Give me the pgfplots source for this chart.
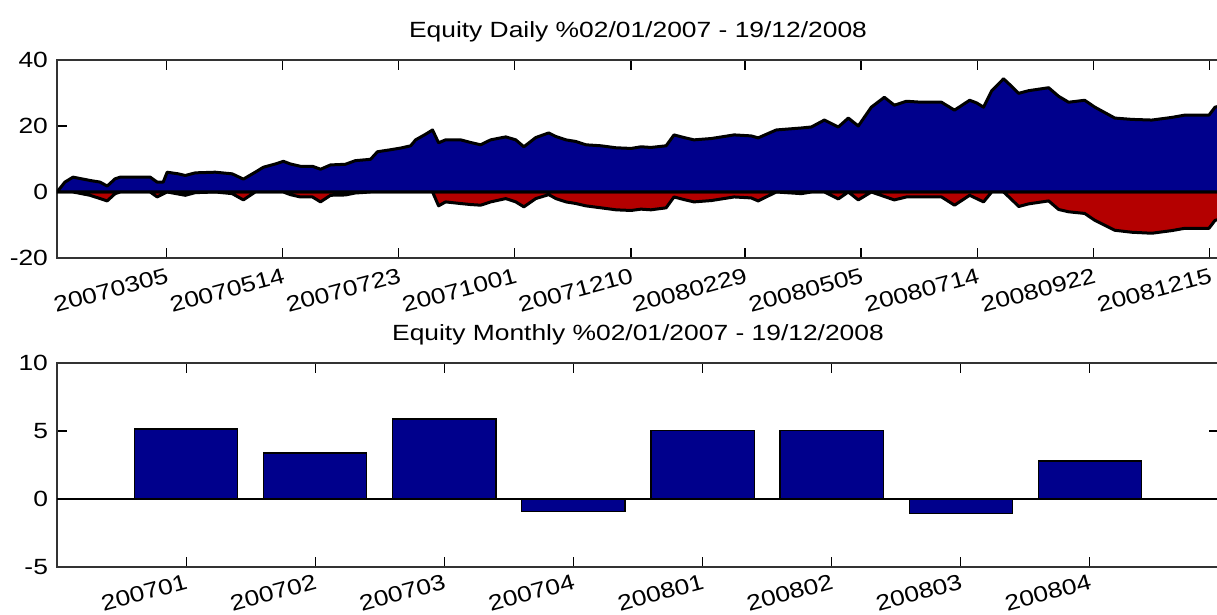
\documentclass[border=0pt]{standalone}
\usepackage{fontspec}
\setmainfont{Liberation Sans}[FakeStretch=1.2]
\usepackage{pgfplots}
\usepackage{pgfplotstable}
\pgfplotsset{compat=1.18}
\definecolor{eqblue}{RGB}{0,0,140}
\definecolor{ddred}{RGB}{180,0,0}

\pgfplotstableread{
d v
0 0
3.4 3
6.9 4.5
14.2 3.5
18.5 3
21.6 1.8
25 4
27.2 4.5
40.1 4.5
43.1 3
45.7 3
47.4 6
52.2 5.5
55.2 5
59.5 5.8
68.1 6
75.4 5.5
80.2 3.9
85.3 6
88.8 7.5
94 8.5
97.4 9.3
100.4 8.5
104.7 7.8
109.9 7.8
113.4 6.9
117.7 8.2
124.1 8.4
128.4 9.5
134.9 9.9
137.9 12.2
143.5 12.8
147.8 13.3
152.2 14
154.3 15.8
158.6 17.5
161.6 18.8
164.2 14.9
167.2 15.8
173.7 15.8
178 15
182.3 14.3
186.6 15.8
193.1 16.7
197.4 15.8
200.9 13.7
206 16.5
211.6 17.9
214.7 16.8
219 15.8
223.3 15.3
227.6 14.3
234.1 14
240.5 13.4
247 13.2
251.3 13.7
255.6 13.5
262.1 14
265.5 17.3
269.8 16.5
274.1 15.8
281.5 16.2
291.4 17.3
298.7 17
301.7 16.4
309.5 18.8
320.3 19.4
324.6 19.7
330.2 21.8
336.2 19.7
340.5 22.4
344.8 20
350.4 25.7
356 28.7
360.3 26.3
365.5 27.5
372 27.2
380.6 27.2
386.2 24.8
392.7 27.8
395.7 27
398.7 25.7
402.2 30.7
407.3 34.3
410.8 32
413.8 29.9
418.1 30.7
426.7 31.6
431 29
435.3 27.2
442.2 27.8
446.6 25.7
455.2 22.4
462.5 22
471.1 21.8
479.7 22.6
485.3 23.3
495.7 23.3
498.3 25.7
500 26
}\equity

\pgfplotstableread{
d v
0 0
6.9 0
14.2 -1
21.6 -2.7
25 -0.5
27.2 0
40.1 0
43.1 -1.5
47.4 0
55.2 -1
59.5 -0.2
68.1 0
75.4 -0.5
80.2 -2.4
85.3 0
97.4 0
100.4 -0.8
104.7 -1.5
109.9 -1.5
113.4 -3
117.7 -1
124.1 -0.9
128.4 -0.3
134.9 0
161.6 0
164.2 -4.2
167.2 -3
173.7 -3.5
178 -3.8
182.3 -4
186.6 -3
193.1 -2
197.4 -3
200.9 -4.5
206 -2
211.6 -0.8
214.7 -2
219 -3
223.3 -3.5
227.6 -4.2
234.1 -4.8
240.5 -5.4
247 -5.6
251.3 -5.2
255.6 -5.4
262.1 -4.8
265.5 -1.5
269.8 -2.3
274.1 -3
281.5 -2.6
291.4 -1.5
298.7 -1.8
301.7 -2.7
309.5 0
320.3 -0.5
324.6 0
330.2 0
336.2 -2.1
340.5 0
344.8 -2.4
350.4 0
360.3 -2.4
365.5 -1.5
380.6 -1.5
386.2 -4
392.7 -1
395.7 -2
398.7 -3
402.2 0
407.3 0
410.8 -2.3
413.8 -4.4
418.1 -3.6
426.7 -2.7
431 -5.3
435.3 -6
442.2 -6.5
446.6 -8.6
455.2 -11.6
462.5 -12.2
471.1 -12.5
479.7 -11.7
485.3 -11
495.7 -11
498.3 -8.6
500 -8.3
}\drawdown

\pgfplotstableread{
x v
1 5.15
2 3.38
3 5.88
4 -0.93
5 5.02
6 5.02
7 -1.08
8 2.79
}\monthly

\begin{document}
\begin{tikzpicture}
\useasboundingbox (0,0) rectangle (608.5pt,307.5pt);
\pgfplotsset{
  every axis/.append style={
    scale only axis,
    font=\fontsize{11}{13}\selectfont,
    /pgf/number format/assume math mode=true,
    tick align=inside,
    major tick length=5pt,
    axis line style={line width=0.7pt, black!80},
    every tick/.style={black, line width=0.6pt},
    title style={at={(0.5,1)}, anchor=south, yshift=-0.5pt, font=\fontsize{11}{13}\selectfont},
    xticklabel style={rotate=15, anchor=north east, xshift=2pt, yshift=-1pt},
    yticklabel style={xshift=-1pt},
  }
}
\begin{axis}[
  at={(28.5pt,178.5pt)}, anchor=south west,
  width=581pt, height=99pt,
  xmin=0, xmax=500, ymin=-20, ymax=40,
  ytick={-20,0,20,40},
  xtick={47,97,147,197,247,296,346,396,446,496},
  xticklabels={20070305,20070514,20070723,20071001,20071210,20080229,20080505,20080714,20080922,20081215},
  title={Equity Daily \%02/01/2007 - 19/12/2008},
]
\addplot[fill=ddred, draw=black, line width=1.5pt, line join=round] table[x=d,y=v] {\drawdown} \closedcycle;
\addplot[fill=eqblue, draw=black, line width=1.5pt, line join=round] table[x=d,y=v] {\equity} \closedcycle;
\end{axis}

\begin{axis}[
  at={(28.5pt,24pt)}, anchor=south west,
  width=581pt, height=102pt,
  xmin=0, xmax=9, ymin=-5, ymax=10,
  ytick={-5,0,5,10},
  xtick={1,...,8},
  xticklabels={200701,200702,200703,200704,200801,200802,200803,200804},
  xticklabel style={yshift=1.5pt},
  title={Equity Monthly \%02/01/2007 - 19/12/2008},
]
\addplot[black, line width=0.6pt] coordinates {(0,0) (9,0)};
\addplot[ybar, bar width=0.8, fill=eqblue, draw=black, line width=0.6pt] table[x=x,y=v] {\monthly};
\end{axis}
\end{tikzpicture}
\end{document}
